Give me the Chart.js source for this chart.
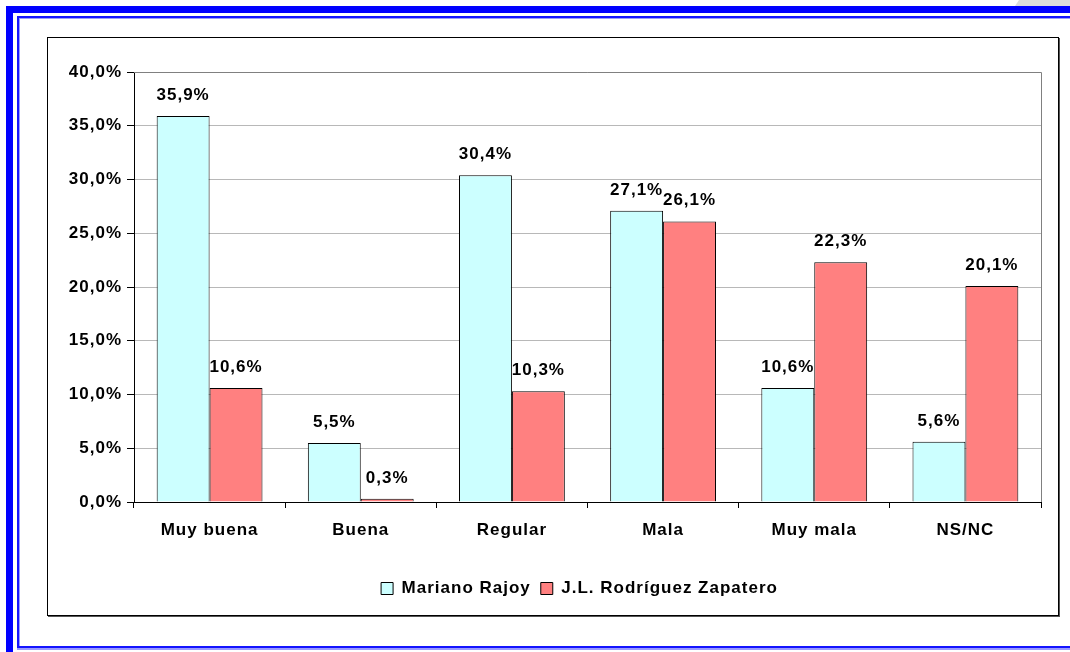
<!DOCTYPE html>
<html>
<head>
<meta charset="utf-8">
<script src="https://cdn.jsdelivr.net/npm/chart.js@4.4.1/dist/chart.umd.min.js"></script>
<style>
html,body{margin:0;padding:0;background:#fff;width:1070px;height:652px;overflow:hidden;position:relative}
#thick{position:absolute;left:6px;top:6px;width:1200px;height:800px;border-left:7px solid #0000ff;border-top:7px solid #0000ff}
#thin{position:absolute;left:17px;top:16px;width:1200px;height:628px;border:2px solid #1414ff;border-right:none;box-shadow:inset 1px 1px 0 #9a9aff,0 2px 0 #9a9aff}
#gray{position:absolute;left:1015px;top:0;width:60px;height:6px;background:#dcdcdc;clip-path:polygon(4px 0,100% 0,100% 100%,0 100%)}
#box{position:absolute;left:47px;top:37px;width:1010px;height:577px;border:1px solid #000;box-shadow:1px 1px 0 #555;background:#fff}
#wrap{position:relative;width:1010px;height:577px}
</style>
</head>
<body>
<div id="gray"></div>
<div id="thick"></div>
<div id="thin"></div>
<div id="box"><div id="wrap"><canvas id="c"></canvas></div></div>
<script>
const categories = ['Muy buena', 'Buena', 'Regular', 'Mala', 'Muy mala', 'NS/NC'];
const seriesNames = ['Mariano Rajoy', 'J.L. Rodríguez Zapatero'];
const rajoy = [35.9, 5.5, 30.4, 27.1, 10.6, 5.6];
const zapatero = [10.6, 0.3, 10.3, 26.1, 22.3, 20.1];
const yMin = 0, yMax = 40, yStep = 5;

const FONT = '"Liberation Sans", Arial, sans-serif';
const fmt = v => v.toFixed(1).replace('.', ',') + '%';

const spacing = {
  id: 'spacing',
  beforeInit(c) { c.ctx.letterSpacing = '1px'; },
  beforeUpdate(c) { c.ctx.letterSpacing = '1px'; },
  beforeDraw(c) { c.ctx.letterSpacing = '1px'; }
};

// centre the legend under the plot like the original
const legendShift = {
  id: 'legendShift',
  afterLayout(chart) {
    const l = chart.legend;
    if (!l) return;
    const target = 531.5;
    const d = target - (l.left + l.right) / 2;
    l.left += d; l.right += d;
  }
};

const plotFrame = {
  id: 'plotFrame',
  beforeDatasetsDraw(chart) {
    const {ctx, chartArea: a} = chart;
    ctx.save();
    ctx.strokeStyle = '#808080';
    ctx.lineWidth = 1;
    ctx.beginPath();
    const r = Math.round(a.right) + 0.5, t = Math.round(a.top) + 0.5;
    ctx.moveTo(Math.round(a.left), t);
    ctx.lineTo(r, t);
    ctx.lineTo(r, Math.round(a.bottom));
    ctx.stroke();
    ctx.restore();
  }
};

const valueLabels = {
  id: 'valueLabels',
  afterDatasetsDraw(chart) {
    const ctx = chart.ctx;
    ctx.save();
    ctx.letterSpacing = '1px';
    ctx.font = 'bold 17px ' + FONT;
    ctx.fillStyle = '#000';
    ctx.textAlign = 'center';
    ctx.textBaseline = 'alphabetic';
    chart.data.datasets.forEach((ds, i) => {
      chart.getDatasetMeta(i).data.forEach((bar, j) => {
        ctx.fillText(fmt(ds.data[j]), bar.x, bar.y - 16);
      });
    });
    ctx.restore();
  }
};

Chart.defaults.font.family = FONT;
Chart.defaults.font.size = 17;
Chart.defaults.font.weight = 'bold';
Chart.defaults.color = '#000';

new Chart(document.getElementById('c'), {
  type: 'bar',
  data: {
    labels: categories,
    datasets: [
      {label: seriesNames[0], data: rajoy, backgroundColor: '#ccffff', borderColor: '#000', borderWidth: 1},
      {label: seriesNames[1], data: zapatero, backgroundColor: '#ff8080', borderColor: '#000', borderWidth: 1}
    ]
  },
  options: {
    responsive: true,
    maintainAspectRatio: false,
    animation: false,
    devicePixelRatio: 1,
    categoryPercentage: 0.7,
    barPercentage: 1.0,
    layout: {padding: {left: 0, right: 17, top: 34, bottom: 8}},
    plugins: {
      tooltip: {enabled: false},
      legend: {
        position: 'bottom',
        labels: {boxWidth: 12, boxHeight: 12, padding: 10, color: '#000',
          font: {family: FONT, size: 17, weight: 'bold'}}
      }
    },
    scales: {
      x: {
        offset: true,
        grid: {drawOnChartArea: false, drawTicks: true, tickLength: 6, tickColor: '#000', offset: true},
        border: {color: '#000', width: 1},
        ticks: {padding: 12, color: '#000', font: {family: FONT, size: 17, weight: 'bold'}},
        afterFit(s) { s.height = 68; }
      },
      y: {
        min: yMin, max: yMax,
        grid: {color: '#b8b8b8', tickColor: '#000', tickLength: 7},
        border: {color: '#000', width: 1},
        ticks: {stepSize: yStep, padding: 5, color: '#000', callback: v => fmt(v),
          font: {family: FONT, size: 17, weight: 'bold'}},
        afterFit(s) { s.width = 86; }
      }
    }
  },
  plugins: [spacing, legendShift, plotFrame, valueLabels]
});
</script>
</body>
</html>
